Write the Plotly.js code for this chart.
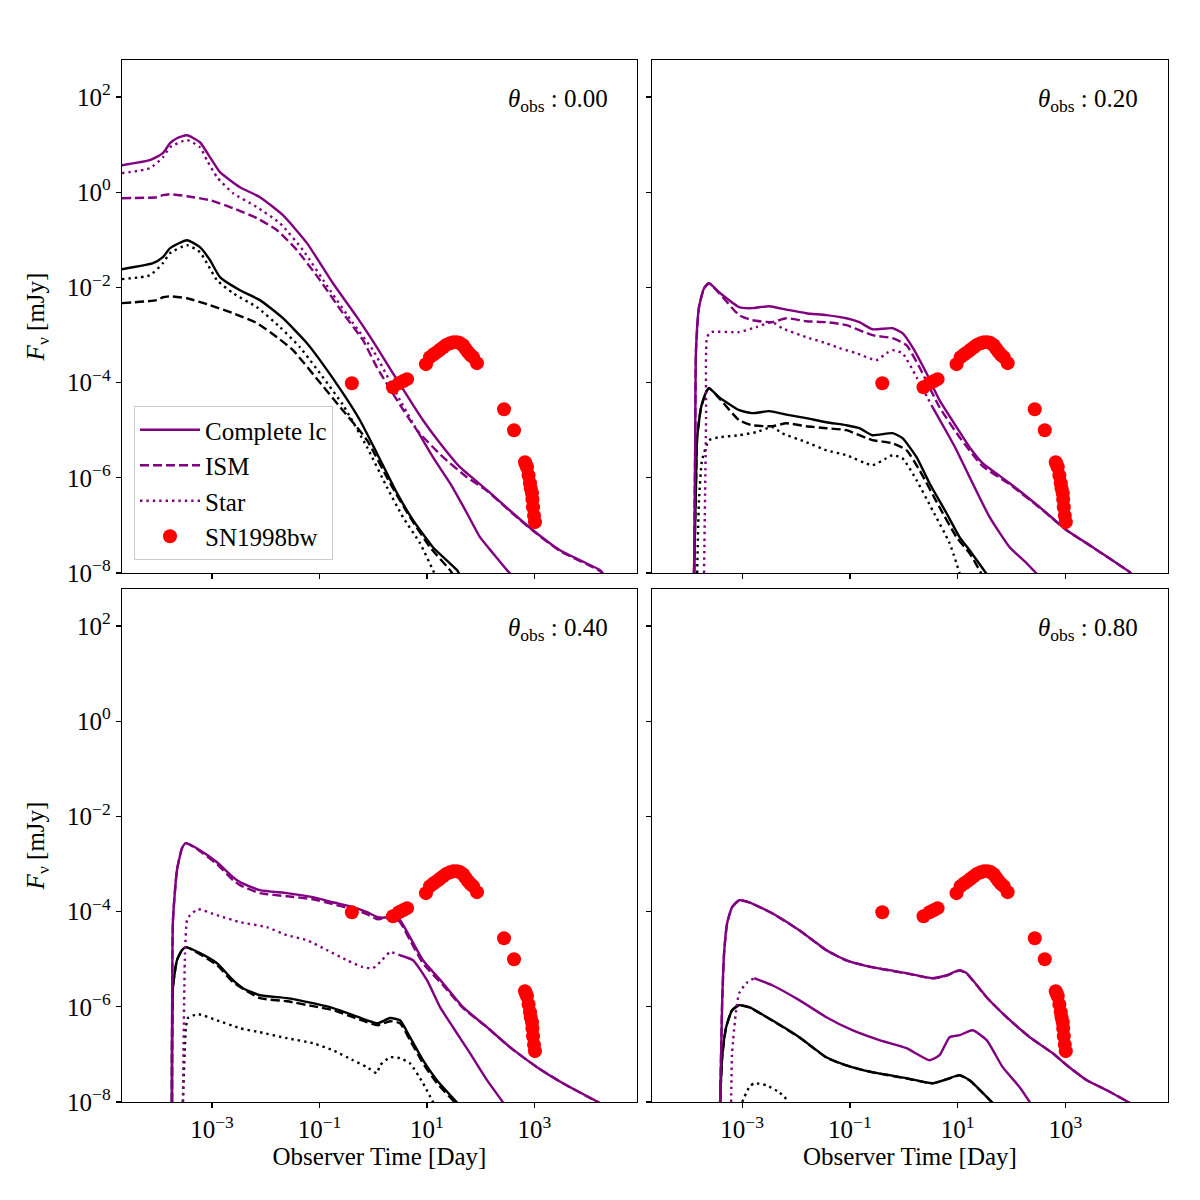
<!DOCTYPE html>
<html>
<head>
<meta charset="utf-8">
<script src="https://cdn.plot.ly/plotly-3.0.1.min.js"></script>
<style>html,body{margin:0;padding:0;background:#fff;}#fig{width:1200px;height:1200px;}</style>
</head>
<body>
<div id="fig"></div>
<script>
// ---------- SN1998bw radio data (time in days, flux in mJy) ----------
const snTime = [0.40, 2.33, 3.01, 3.57, 4.25, 9.57, 11.4, 13.2, 15.3, 17.4, 19.9, 22.9, 26.8, 30.9, 36.1, 40.7, 46.8, 52.5, 57.9, 64.6, 71.8, 85.1, 271, 416, 665, 692, 724, 776, 824, 851, 897, 914, 938, 980, 1021];
const snFlux = [9.7e-5, 8.0e-5, 9.7e-5, 1.07e-4, 1.18e-4, 2.44e-4, 3.42e-4, 3.9e-4, 4.36e-4, 4.9e-4, 5.5e-4, 6.2e-4, 6.7e-4, 7.0e-4, 7.06e-4, 6.8e-4, 6.1e-4, 5.1e-4, 4.36e-4, 3.8e-4, 3.42e-4, 2.56e-4, 2.76e-5, 1.0e-5, 2.13e-6, 1.9e-6, 1.67e-6, 1.12e-6, 7.7e-7, 6.0e-7, 4.75e-7, 3.5e-7, 2.41e-7, 1.6e-7, 1.17e-7];

// ---------- theta_obs = 0.00 ----------
const a_pFull_t = [2.1e-5, 7.0e-5, 1.22e-4, 1.66e-4, 2.23e-4, 3.43e-4, 5.98e-4, 9.2e-4, 1.41e-3, 3.32e-3, 7.8e-3, 0.0209, 0.0585, 0.178, 0.499, 1.17, 2.33, 4.83, 8.43, 17.5, 41.1, 131, 398, 938, 2980, 16600, 19000];
const a_pFull_f = [3.69, 4.7, 6.6, 10.7, 13.6, 15.7, 11.2, 5.4, 2.63, 1.27, 0.785, 0.329, 0.085, 0.0122, 2.37e-3, 5.5e-4, 1.57e-4, 4.27e-5, 1.62e-5, 5.33e-6, 1.67e-6, 5.5e-7, 1.8e-7, 7.9e-8, 3.0e-8, 1.15e-8, 9.5e-9];
const a_pIsm_t = [2.1e-5, 9.5e-5, 1.22e-4, 1.66e-4, 3.43e-4, 9.2e-4, 2.46e-3, 6.87e-3, 0.0162, 0.0381, 0.102, 0.273, 0.644, 1.17, 2.77, 6.52, 19.9, 55.5, 131, 398, 938, 2980, 16600, 19000];
const a_pIsm_f = [0.748, 0.785, 0.865, 0.908, 0.824, 0.679, 0.461, 0.284, 0.159, 0.0605, 0.0142, 2.87e-3, 7.8e-4, 2.1e-4, 4.27e-5, 1e-5, 2.71e-6, 1.03e-6, 5.3e-7, 1.75e-7, 7.7e-8, 2.9e-8, 1.1e-8, 9.3e-9];
const a_pStar_t = [2.1e-5, 7.0e-5, 1.22e-4, 1.66e-4, 3.43e-4, 5.98e-4, 8.07e-4, 1.24e-3, 2.46e-3, 6.87e-3, 0.0184, 0.0493, 0.157, 0.42, 0.99, 3.15, 6.52];
const a_pStar_f = [2.51, 3.19, 5.4, 8.8, 12.4, 8.8, 4.7, 2.07, 0.953, 0.484, 0.223, 0.0605, 8.7e-3, 1.77e-3, 4.8e-4, 4.27e-5, 1e-5];
const a_pStarTail_t = [6.52, 12.9, 26.8, 55.5, 96.8, 169, 308, 360];
const a_pStarTail_f = [1e-5, 2.71e-6, 7.7e-7, 1.8e-7, 5.65e-8, 2.6e-8, 1.15e-8, 9.5e-9];
const a_kFull_t = [2.1e-5, 7.98e-5, 1.22e-4, 1.66e-4, 3.43e-4, 5.98e-4, 9.2e-4, 1.41e-3, 3.32e-3, 7.8e-3, 0.0209, 0.0585, 0.102, 0.273, 0.566, 1.17, 2.77, 5.5, 12.9, 36.1, 40];
const a_kFull_f = [0.0241, 0.0322, 0.0431, 0.0667, 0.0981, 0.07, 0.0373, 0.0164, 8.7e-3, 5.4e-3, 2.25e-3, 6.7e-4, 2.96e-4, 6.0e-5, 1.62e-5, 3.29e-6, 4.75e-7, 1.29e-7, 3.48e-8, 1.15e-8, 9.5e-9];
const a_kIsm_t = [2.1e-5, 9.5e-5, 1.22e-4, 1.66e-4, 3.43e-4, 9.2e-4, 2.46e-3, 6.87e-3, 0.0162, 0.0321, 0.102, 0.273, 0.766, 2.05, 4.83, 11.4, 26.8, 30];
const a_kIsm_f = [4.66e-3, 5.4e-3, 6.2e-3, 6.5e-3, 5.9e-3, 4.23e-3, 2.87e-3, 1.77e-3, 9.0e-4, 4.8e-4, 1.0e-4, 2.6e-5, 6.17e-6, 7.7e-7, 1.49e-7, 3.48e-8, 1.15e-8, 9.5e-9];
const a_kStar_t = [2.1e-5, 7.0e-5, 1.22e-4, 1.66e-4, 3.43e-4, 5.98e-4, 8.07e-4, 1.24e-3, 2.46e-3, 6.87e-3, 0.0184, 0.0434, 0.273, 0.766, 1.8, 3.57, 7.41, 12.9, 14];
const a_kStar_f = [0.0149, 0.018, 0.0322, 0.0523, 0.077, 0.0549, 0.0322, 0.0142, 7.55e-3, 3.84e-3, 1.46e-3, 5.5e-4, 3.4e-5, 4.4e-6, 6.35e-7, 1.49e-7, 4.23e-8, 1.15e-8, 9.5e-9];

// ---------- theta_obs = 0.20 ----------
const b_pFull_t = [1.28e-4, 1.34e-4, 1.39e-4, 1.58e-4, 1.96e-4, 2.43e-4, 3.73e-4, 8.8e-4, 1.53e-3, 3.18e-3, 7.5e-3, 0.0155, 0.0366, 0.0861, 0.150, 0.262, 0.618, 0.948, 1.46, 2.65, 4.62, 9.57, 16.7, 29.2, 92.7, 336, 1067, 3250, 15850, 17000];
const b_pFull_f = [1e-8, 3.8e-6, 4.8e-4, 3.84e-3, 9.6e-3, 0.0122, 7.9e-3, 3.84e-3, 3.66e-3, 4.03e-3, 3.32e-3, 2.87e-3, 2.61e-3, 2.25e-3, 1.86e-3, 1.32e-3, 1.39e-3, 1.09e-3, 5.5e-4, 1.57e-4, 4.27e-5, 1.16e-5, 4.4e-6, 2.03e-6, 7.7e-7, 2.41e-7, 7.9e-8, 3.48e-8, 1.04e-8, 9.5e-9];
const b_pIsm_t = [1.28e-4, 1.34e-4, 1.39e-4, 1.58e-4, 1.96e-4, 2.43e-4, 3.73e-4, 8.8e-4, 1.53e-3, 3.61e-3, 6.6e-3, 0.0155, 0.0366, 0.0861, 0.262, 0.618, 1.125, 1.96, 4.62, 10.9, 29.2, 92.7, 336, 1067, 3250, 15850, 17000];
const b_pIsm_f = [1e-8, 3.8e-6, 4.8e-4, 3.84e-3, 9.6e-3, 0.0122, 7.6e-3, 2.61e-3, 2.05e-3, 1.86e-3, 2.25e-3, 1.95e-3, 1.86e-3, 1.61e-3, 9.9e-4, 8.6e-4, 6.1e-4, 2.1e-4, 3.04e-5, 7.1e-6, 1.75e-6, 7.3e-7, 2.35e-7, 7.8e-8, 3.45e-8, 1.03e-8, 9.4e-9];
const b_pStar_t = [1.96e-4, 2.14e-4, 2.23e-4, 2.65e-4, 8.8e-4, 1.82e-3, 3.61e-3, 5.5e-3, 0.0155, 0.0366, 0.0638, 0.132, 0.311, 0.478, 0.618, 0.948, 1.73, 3.43];
const b_pStar_f = [1e-8, 1.87e-5, 9.0e-4, 1.15e-3, 1.15e-3, 1.46e-3, 1.86e-3, 1.39e-3, 9.0e-4, 6.7e-4, 5.3e-4, 4.15e-4, 2.96e-4, 4.15e-4, 4.8e-4, 4.15e-4, 1.3e-4, 3.04e-5];
const b_pStarTail_t = [3.43, 7.1, 9.57, 19.0, 39.4, 92.7, 192, 300];
const b_pStarTail_f = [3.04e-5, 7.1e-6, 3.8e-6, 7.7e-7, 1.49e-7, 3.48e-8, 1.6e-8, 9.5e-9];
const b_kFull_t = [1.28e-4, 1.39e-4, 1.46e-4, 1.73e-4, 2.14e-4, 2.43e-4, 3.73e-4, 8.8e-4, 1.53e-3, 3.18e-3, 7.5e-3, 0.0155, 0.0366, 0.0861, 0.150, 0.262, 0.618, 0.948, 1.73, 3.01, 6.24, 10.9, 16.7, 34.7];
const b_kFull_f = [1e-8, 7.7e-7, 7.1e-6, 3.04e-5, 6.3e-5, 7.6e-5, 4.93e-5, 2.63e-5, 2.28e-5, 2.51e-5, 2.07e-5, 1.79e-5, 1.47e-5, 1.27e-5, 1.1e-5, 7.85e-6, 8.65e-6, 6.8e-6, 2.71e-6, 7.7e-7, 1.8e-7, 5.65e-8, 3.0e-8, 9.5e-9];
const b_kIsm_t = [1.28e-4, 1.39e-4, 1.46e-4, 1.73e-4, 2.14e-4, 2.43e-4, 3.73e-4, 8.8e-4, 1.53e-3, 3.61e-3, 6.6e-3, 0.0155, 0.0366, 0.0861, 0.262, 0.618, 1.125, 1.96, 4.62, 9.57, 16.7, 28];
const b_kIsm_f = [1e-8, 7.7e-7, 7.1e-6, 3.04e-5, 6.3e-5, 7.6e-5, 4.7e-5, 1.62e-5, 1.27e-5, 1.21e-5, 1.4e-5, 1.21e-5, 1.1e-5, 1e-5, 6.17e-6, 5.33e-6, 3.8e-6, 1.45e-6, 2.41e-7, 5.65e-8, 2.6e-8, 9.5e-9];
const b_kStar_t = [1.46e-4, 1.58e-4, 1.8e-4, 2.43e-4, 3.73e-4, 8.8e-4, 1.82e-3, 3.61e-3, 5.5e-3, 0.0155, 0.0366, 0.0861, 0.262, 0.478, 0.618, 0.948, 1.73, 3.43, 7.1, 10.9];
const b_kStar_f = [1e-8, 3.38e-7, 2.34e-6, 6.17e-6, 7.1e-6, 7.85e-6, 9.1e-6, 1.16e-5, 8.65e-6, 5.6e-6, 3.8e-6, 2.98e-6, 1.84e-6, 2.58e-6, 2.98e-6, 2.58e-6, 8.9e-7, 2.08e-7, 4.23e-8, 1.0e-8];

// ---------- theta_obs = 0.40 ----------
const c_pFull_t = [1.8e-4, 1.88e-4, 2.23e-4, 2.77e-4, 3.28e-4, 5.98e-4, 1.24e-3, 2.46e-3, 3.32e-3, 7.8e-3, 0.0248, 0.0757, 0.178, 0.42, 0.766, 1.22, 1.8, 2.33, 3.15, 4.83, 8.43, 19.9, 46.8, 131, 350, 1114, 3390, 16600];
const c_pFull_f = [1e-8, 6.6e-5, 7.4e-4, 2.15e-3, 2.74e-3, 1.95e-3, 1.09e-3, 5.3e-4, 4.15e-4, 2.82e-4, 2.44e-4, 2.01e-4, 1.57e-4, 1.24e-4, 9.7e-5, 7.6e-5, 7.6e-5, 8.4e-5, 6.6e-5, 2.9e-5, 9.5e-6, 3.13e-6, 9.8e-7, 3.72e-7, 1.42e-7, 5.4e-8, 2.48e-8, 9.5e-9];
const c_pIsm_t = [1.8e-4, 1.88e-4, 2.23e-4, 2.77e-4, 3.28e-4, 5.98e-4, 1.24e-3, 2.46e-3, 3.32e-3, 7.8e-3, 0.0248, 0.0757, 0.178, 0.42, 0.766, 1.22, 1.8, 2.33, 3.15, 4.83, 8.43, 19.9, 46.8, 131, 350, 1114, 3390, 16600];
const c_pIsm_f = [1e-8, 6.6e-5, 7.4e-4, 2.15e-3, 2.74e-3, 1.86e-3, 9.9e-4, 4.57e-4, 3.59e-4, 2.44e-4, 2.1e-4, 1.82e-4, 1.43e-4, 1.12e-4, 8.8e-5, 6.9e-5, 7.3e-5, 7.6e-5, 6.0e-5, 2.51e-5, 8.2e-6, 2.84e-6, 9.4e-7, 3.7e-7, 1.41e-7, 5.4e-8, 2.47e-8, 9.4e-9];
const c_pStar_t = [2.88e-4, 3.15e-4, 3.43e-4, 3.9e-4, 5.5e-4, 1.24e-3, 3.32e-3, 0.0105, 0.0248, 0.0585, 0.138, 0.325, 0.644, 0.99, 1.34, 2.05, 3.15];
const c_pStar_f = [1e-8, 1.34e-5, 6.6e-5, 8.4e-5, 1.12e-4, 8.4e-5, 6.0e-5, 4.7e-5, 3.19e-5, 2.51e-5, 1.55e-5, 9.5e-6, 6.8e-6, 6.5e-6, 8.65e-6, 1.4e-5, 1.21e-5];
const c_pStarTail_t = [3.15, 5.5, 10, 17.5, 30.5, 63.1, 131, 265];
const c_pStarTail_f = [1.21e-5, 9.5e-6, 3.62e-6, 9.8e-7, 3.72e-7, 1.06e-7, 2.87e-8, 9.5e-9];
const c_kFull_t = [1.8e-4, 1.88e-4, 2.23e-4, 2.77e-4, 3.28e-4, 5.98e-4, 1.24e-3, 2.46e-3, 3.78e-3, 7.8e-3, 0.0248, 0.0757, 0.178, 0.42, 0.766, 1.22, 2.05, 3.15, 4.83, 8.43, 15.3, 37];
const c_kFull_f = [1e-8, 2.58e-6, 9.5e-6, 1.55e-5, 1.79e-5, 1.34e-5, 8.2e-6, 3.62e-6, 2.46e-6, 1.75e-6, 1.52e-6, 1.19e-6, 9.4e-7, 6.7e-7, 5.2e-7, 4.52e-7, 5.8e-7, 5.2e-7, 2.3e-7, 7.55e-8, 2.87e-8, 9.5e-9];
const c_kIsm_t = [1.8e-4, 1.88e-4, 2.23e-4, 2.77e-4, 3.28e-4, 1.24e-3, 2.46e-3, 7.8e-3, 0.0248, 0.0757, 0.178, 0.42, 0.766, 1.22, 2.05, 3.15, 4.83, 8.43, 15.3, 34];
const c_kIsm_f = [1e-8, 2.58e-6, 9.5e-6, 1.55e-5, 1.79e-5, 7.5e-6, 3.29e-6, 1.52e-6, 1.31e-6, 1.03e-6, 8.5e-7, 6.05e-7, 4.75e-7, 4.1e-7, 4.98e-7, 4.52e-7, 1.99e-7, 6.5e-8, 2.48e-8, 9.5e-9];
const c_kStar_t = [2.88e-4, 3.28e-4, 3.57e-4, 5.5e-4, 1.24e-3, 3.32e-3, 7.8e-3, 0.0248, 0.0757, 0.178, 0.42, 0.766, 1.17, 1.34, 2.05, 3.15, 4.83, 8.43, 13.2];
const c_kStar_f = [1e-8, 3.72e-7, 5.8e-7, 7.0e-7, 5.2e-7, 3.55e-7, 2.92e-7, 2.19e-7, 1.72e-7, 1.22e-7, 7.55e-8, 5.4e-8, 4.03e-8, 5.9e-8, 8.7e-8, 8.3e-8, 6.5e-8, 2.48e-8, 9.5e-9];

// ---------- theta_obs = 0.80 ----------
const d_pFull_t = [3.9e-4, 4.25e-4, 4.62e-4, 5.26e-4, 6.5e-4, 8.8e-4, 1.35e-3, 3.61e-3, 0.0115, 0.0366, 0.0861, 0.262, 1.125, 3.43, 6.24, 10.9, 14.7, 34.7, 81.7, 219, 585, 1067, 2512, 5916, 16000];
const d_pFull_f = [1e-8, 1.19e-6, 1.34e-5, 5.7e-5, 1.24e-4, 1.73e-4, 1.57e-4, 9.25e-5, 4.07e-5, 1.55e-5, 9.5e-6, 6.8e-6, 5.1e-6, 4.0e-6, 4.6e-6, 5.9e-6, 5.1e-6, 1.59e-6, 6.05e-7, 2.3e-7, 1.06e-7, 5.9e-8, 2.87e-8, 1.77e-8, 9.5e-9];
const d_pIsm_t = [3.9e-4, 4.25e-4, 4.62e-4, 5.26e-4, 6.5e-4, 8.8e-4, 1.35e-3, 3.61e-3, 0.0115, 0.0366, 0.0861, 0.262, 1.125, 3.43, 6.24, 10.9, 14.7, 34.7, 81.7, 219, 585, 1067, 2512, 5916, 16000];
const d_pIsm_f = [1e-8, 1.19e-6, 1.34e-5, 5.7e-5, 1.24e-4, 1.72e-4, 1.56e-4, 9.2e-5, 4.05e-5, 1.54e-5, 9.4e-6, 6.75e-6, 5.05e-6, 3.95e-6, 4.5e-6, 5.8e-6, 5.0e-6, 1.57e-6, 6.0e-7, 2.3e-7, 1.06e-7, 5.9e-8, 2.87e-8, 1.77e-8, 9.5e-9];
const d_pStar_t = [6.24e-4, 6.5e-4, 7.73e-4, 8.8e-4, 1.19e-3, 1.67e-3];
const d_pStar_f = [1e-8, 1.06e-7, 8.5e-7, 1.93e-6, 3.13e-6, 4.0e-6];
const d_pStarTail_t = [1.67e-3, 3.61e-3, 0.0115, 0.0366, 0.111, 0.354, 1.125, 3.01, 4.62, 7.1, 10.9, 19.0, 34.7, 68.7, 142, 225];
const d_pStarTail_f = [4.0e-6, 2.84e-6, 1.38e-6, 6.05e-7, 3.22e-7, 1.99e-7, 1.35e-7, 7.55e-8, 9.6e-8, 2.3e-7, 2.53e-7, 3.22e-7, 1.99e-7, 5.4e-8, 2.05e-8, 9.5e-9];
const d_kFull_t = [3.9e-4, 4.25e-4, 5.04e-4, 6.5e-4, 8.8e-4, 1.35e-3, 3.61e-3, 0.0115, 0.0366, 0.0861, 0.262, 1.125, 3.43, 6.24, 10.9, 16.7, 45];
const d_kFull_f = [1e-8, 8.7e-8, 3.72e-7, 8.5e-7, 1.08e-6, 9.8e-7, 5.2e-7, 2.3e-7, 8.7e-8, 5.9e-8, 4.23e-8, 3.16e-8, 2.48e-8, 3.01e-8, 3.66e-8, 2.87e-8, 9.5e-9];
const d_kIsm_t = [3.9e-4, 4.25e-4, 5.04e-4, 6.5e-4, 8.8e-4, 1.35e-3, 3.61e-3, 0.0115, 0.0366, 0.0861, 0.262, 1.125, 3.43, 6.24, 10.9, 16.7, 45];
const d_kIsm_f = [1e-8, 8.7e-8, 3.72e-7, 8.5e-7, 1.07e-6, 9.7e-7, 5.15e-7, 2.28e-7, 8.6e-8, 5.85e-8, 4.2e-8, 3.14e-8, 2.46e-8, 2.98e-8, 3.62e-8, 2.85e-8, 9.5e-9];
const d_kStar_t = [1e-3, 1.35e-3, 1.67e-3, 2.8e-3, 4.88e-3, 7.5e-3];
const d_kStar_f = [1e-8, 2.05e-8, 2.48e-8, 2.25e-8, 1.6e-8, 1e-8];

// ---------- panel labels and ticks ----------
const thetaLabels = ['0.00', '0.20', '0.40', '0.80'];
const xTickVals = [1e-3, 1e-1, 1e1, 1e3];
const xTickText = ['10<sup>−3</sup>', '10<sup>−1</sup>', '10<sup>1</sup>', '10<sup>3</sup>'];
const yTickVals = [1e2, 1e0, 1e-2, 1e-4, 1e-6, 1e-8];
const yTickText = ['10<sup>2</sup>', '10<sup>0</sup>', '10<sup>−2</sup>', '10<sup>−4</sup>', '10<sup>−6</sup>', '10<sup>−8</sup>'];

const PURPLE = '#800080';
const FONT = 'Liberation Serif, DejaVu Serif, serif';
const FS = 25;
const LW = 2.4;
const DASH = '9px,4px';
const DOT = '2.4px,4px';

const panels = [
  {ax: '', d: {pFull: [a_pFull_t, a_pFull_f], pIsm: [a_pIsm_t, a_pIsm_f], pStar: [a_pStar_t, a_pStar_f], pTail: [a_pStarTail_t, a_pStarTail_f],
               kFull: [a_kFull_t, a_kFull_f], kIsm: [a_kIsm_t, a_kIsm_f], kStar: [a_kStar_t, a_kStar_f]}},
  {ax: '2', d: {pFull: [b_pFull_t, b_pFull_f], pIsm: [b_pIsm_t, b_pIsm_f], pStar: [b_pStar_t, b_pStar_f], pTail: [b_pStarTail_t, b_pStarTail_f],
               kFull: [b_kFull_t, b_kFull_f], kIsm: [b_kIsm_t, b_kIsm_f], kStar: [b_kStar_t, b_kStar_f]}},
  {ax: '3', d: {pFull: [c_pFull_t, c_pFull_f], pIsm: [c_pIsm_t, c_pIsm_f], pStar: [c_pStar_t, c_pStar_f], pTail: [c_pStarTail_t, c_pStarTail_f],
               kFull: [c_kFull_t, c_kFull_f], kIsm: [c_kIsm_t, c_kIsm_f], kStar: [c_kStar_t, c_kStar_f]}},
  {ax: '4', d: {pFull: [d_pFull_t, d_pFull_f], pIsm: [d_pIsm_t, d_pIsm_f], pStar: [d_pStar_t, d_pStar_f], pTail: [d_pStarTail_t, d_pStarTail_f],
               kFull: [d_kFull_t, d_kFull_f], kIsm: [d_kIsm_t, d_kIsm_f], kStar: [d_kStar_t, d_kStar_f]}}
];

const traces = [];
panels.forEach((p) => {
  const xa = 'x' + p.ax, ya = 'y' + p.ax;
  const line = (xy, color, dash, name) => ({
    x: xy[0], y: xy[1], xaxis: xa, yaxis: ya, type: 'scatter', mode: 'lines',
    line: {color: color, width: LW, dash: dash, shape: 'spline', smoothing: 0.5},
    name: name, showlegend: false, hoverinfo: 'skip'
  });
  traces.push(line(p.d.kIsm, 'black', DASH, 'ISM'));
  traces.push(line(p.d.kStar, 'black', DOT, 'Star'));
  traces.push(line(p.d.kFull, 'black', 'solid', 'Complete lc'));
  traces.push(line(p.d.pTail, PURPLE, 'solid', 'Star'));
  traces.push(line(p.d.pStar, PURPLE, DOT, 'Star'));
  traces.push(line(p.d.pFull, PURPLE, 'solid', 'Complete lc'));
  traces.push(line(p.d.pIsm, PURPLE, DASH, 'ISM'));
  traces.push({
    x: snTime, y: snFlux, xaxis: xa, yaxis: ya, type: 'scatter', mode: 'markers',
    marker: {color: '#ff0000', size: 14, line: {width: 0}}, name: 'SN1998bw', showlegend: false, hoverinfo: 'skip'
  });
});

// legend entries (empty series, so only their legend symbols appear)
const legendItems = [
  {name: 'Complete lc', mode: 'lines', line: {color: PURPLE, width: LW, dash: 'solid'}},
  {name: 'ISM', mode: 'lines', line: {color: PURPLE, width: LW, dash: DASH}},
  {name: 'Star', mode: 'lines', line: {color: PURPLE, width: LW, dash: DOT}},
  {name: 'SN1998bw', mode: 'markers', marker: {color: '#ff0000', size: 14}}
];
legendItems.forEach(it => traces.push(Object.assign({x: [null], y: [null], xaxis: 'x', yaxis: 'y', type: 'scatter', showlegend: true, hoverinfo: 'skip'}, it)));

const xDom = [[122/1200, 637/1200], [652/1200, 1168/1200]];
const yDom = [[1 - 573/1200, 1 - 60/1200], [1 - 1102/1200, 1 - 589/1200]];

function xAxis(domain, anchor, labels, title) {
  const a = {
    type: 'log', range: [-4.674, 4.907], domain: domain, anchor: anchor,
    showline: true, mirror: true, linecolor: 'black', linewidth: 1.3,
    ticks: 'outside', ticklen: 5, tickwidth: 1.3, tickcolor: 'black',
    showgrid: false, zeroline: false, tickmode: 'array', tickvals: xTickVals, ticktext: xTickText,
    showticklabels: labels, tickfont: {family: FONT, size: FS, color: 'black'}, automargin: false
  };
  if (title) a.title = {text: 'Observer Time [Day]', font: {family: FONT, size: FS, color: 'black'}, standoff: 4};
  return a;
}
function yAxis(domain, anchor, labels, title) {
  const a = {
    type: 'log', range: [-8, 2.777], domain: domain, anchor: anchor,
    showline: true, mirror: true, linecolor: 'black', linewidth: 1.3,
    ticks: 'outside', ticklen: 5, tickwidth: 1.3, tickcolor: 'black',
    showgrid: false, zeroline: false, tickmode: 'array', tickvals: yTickVals, ticktext: yTickText,
    showticklabels: labels, tickfont: {family: FONT, size: FS, color: 'black'}, automargin: false
  };
  if (title) a.title = {text: '<i>F</i><sub>ν</sub> [mJy]', font: {family: FONT, size: FS, color: 'black'}, standoff: 15};
  return a;
}

const annPos = [[610, 100], [1140, 100], [610, 629], [1140, 629]];
const annotations = thetaLabels.map((lab, i) => ({
  xref: 'paper', yref: 'paper', x: annPos[i][0] / 1200, y: 1 - annPos[i][1] / 1200,
  xanchor: 'right', yanchor: 'middle', showarrow: false,
  text: '<i>θ</i><sub>obs</sub> : ' + lab, font: {family: FONT, size: FS, color: 'black'}
}));

const layout = {
  width: 1200, height: 1200, paper_bgcolor: 'white', plot_bgcolor: 'white',
  margin: {l: 0, r: 0, t: 0, b: 0}, showlegend: true,
  font: {family: FONT, color: 'black'},
  xaxis: xAxis(xDom[0], 'y', false, false),
  yaxis: yAxis(yDom[0], 'x', true, true),
  xaxis2: xAxis(xDom[1], 'y2', false, false),
  yaxis2: yAxis(yDom[0], 'x2', false, false),
  xaxis3: xAxis(xDom[0], 'y3', true, true),
  yaxis3: yAxis(yDom[1], 'x3', true, true),
  xaxis4: xAxis(xDom[1], 'y4', true, true),
  yaxis4: yAxis(yDom[1], 'x4', false, false),
  legend: {
    x: 134/1200, y: 1 - 406/1200, xanchor: 'left', yanchor: 'top',
    bgcolor: 'rgba(255,255,255,0.85)', bordercolor: '#cccccc', borderwidth: 1,
    font: {family: FONT, size: FS, color: 'black'}, itemwidth: 60, tracegroupgap: 0
  },
  annotations: annotations
};

Plotly.newPlot('fig', traces, layout, {staticPlot: true, displayModeBar: false});
</script>
</body>
</html>
